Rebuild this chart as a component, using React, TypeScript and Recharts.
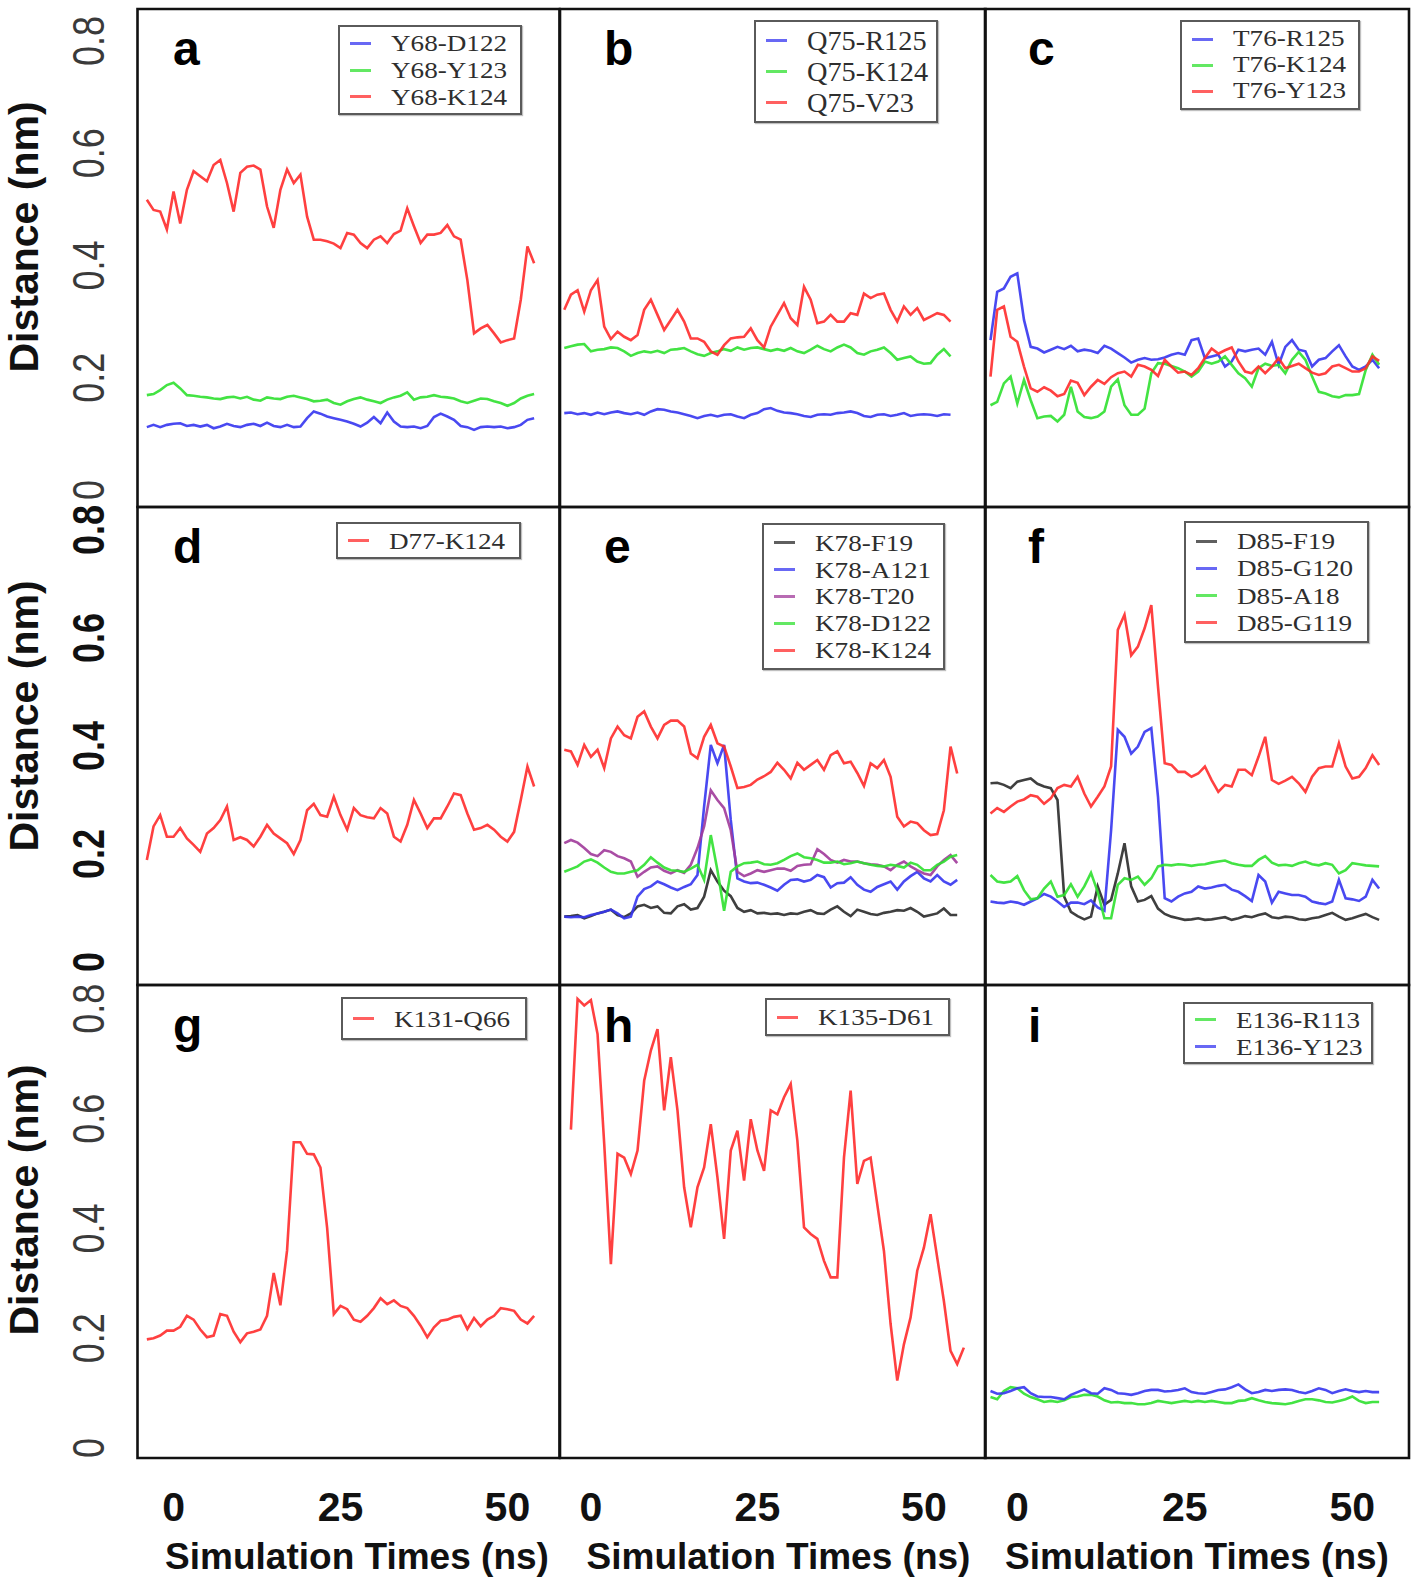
import React from "react";
import { LineChart, Line, XAxis, YAxis, ReferenceArea, Legend } from "recharts";

// simulation time (ns)
const times = [-4, -3, -2, -1, 0, 1, 2, 3, 4, 5, 6, 7, 8, 9, 10, 11, 12, 13, 14, 15, 16, 17, 18, 19, 20, 21, 22, 23, 24, 25, 26, 27, 28, 29, 30, 31, 32, 33, 34, 35, 36, 37, 38, 39, 40, 41, 42, 43, 44, 45, 46, 47, 48, 49, 50, 51, 52, 53, 54];
const timesE = [-4, -3, -2, -1, 0, 1, 2, 3, 4, 5, 6, 7, 8, 9, 10, 11, 12, 13, 14, 15, 16, 17, 18, 19, 20, 21, 22, 23, 24, 25, 26, 27, 28, 29, 30, 31, 32, 33, 34, 35, 36, 37, 38, 39, 40, 41, 42, 43, 44, 45, 46, 47, 48, 49, 50, 51, 52, 53, 54, 55];
const timesH = [-3, -2, -1, 0, 1, 2, 3, 4, 5, 6, 7, 8, 9, 10, 11, 12, 13, 14, 15, 16, 17, 18, 19, 20, 21, 22, 23, 24, 25, 26, 27, 28, 29, 30, 31, 32, 33, 34, 35, 36, 37, 38, 39, 40, 41, 42, 43, 44, 45, 46, 47, 48, 49, 50, 51, 52, 53, 54, 55, 56];

const xTicks = [0, 25, 50];
const yTicks = [0, 0.2, 0.4, 0.6, 0.8];

// panel a
const aY68D122 = [0.112, 0.116, 0.112, 0.116, 0.118, 0.119, 0.114, 0.116, 0.113, 0.116, 0.11, 0.113, 0.118, 0.114, 0.112, 0.116, 0.118, 0.114, 0.12, 0.114, 0.112, 0.116, 0.112, 0.113, 0.128, 0.14, 0.136, 0.131, 0.128, 0.125, 0.122, 0.118, 0.113, 0.12, 0.13, 0.119, 0.138, 0.122, 0.113, 0.112, 0.113, 0.11, 0.114, 0.13, 0.136, 0.131, 0.125, 0.114, 0.112, 0.107, 0.112, 0.113, 0.112, 0.113, 0.11, 0.112, 0.116, 0.125, 0.128];
const aY68Y123 = [0.169, 0.171, 0.178, 0.187, 0.191, 0.181, 0.169, 0.168, 0.166, 0.165, 0.163, 0.162, 0.165, 0.166, 0.163, 0.166, 0.161, 0.159, 0.165, 0.163, 0.162, 0.166, 0.168, 0.165, 0.162, 0.158, 0.159, 0.161, 0.155, 0.152, 0.158, 0.162, 0.165, 0.161, 0.158, 0.155, 0.161, 0.165, 0.168, 0.174, 0.161, 0.165, 0.166, 0.169, 0.166, 0.165, 0.163, 0.158, 0.155, 0.159, 0.163, 0.162, 0.158, 0.155, 0.15, 0.155, 0.163, 0.168, 0.171];
const aY68K124 = [0.517, 0.499, 0.496, 0.464, 0.532, 0.475, 0.535, 0.568, 0.559, 0.55, 0.579, 0.588, 0.547, 0.496, 0.565, 0.576, 0.578, 0.571, 0.505, 0.467, 0.535, 0.571, 0.547, 0.562, 0.487, 0.446, 0.446, 0.443, 0.439, 0.431, 0.458, 0.455, 0.44, 0.431, 0.446, 0.452, 0.44, 0.456, 0.462, 0.502, 0.47, 0.44, 0.455, 0.455, 0.458, 0.472, 0.452, 0.446, 0.374, 0.279, 0.288, 0.294, 0.279, 0.263, 0.267, 0.27, 0.339, 0.434, 0.404];

// panel b
const bQ75R125 = [0.137, 0.138, 0.135, 0.137, 0.134, 0.138, 0.135, 0.138, 0.14, 0.137, 0.135, 0.138, 0.134, 0.14, 0.144, 0.143, 0.14, 0.138, 0.135, 0.132, 0.128, 0.132, 0.134, 0.131, 0.134, 0.135, 0.131, 0.128, 0.134, 0.137, 0.144, 0.146, 0.141, 0.138, 0.137, 0.135, 0.132, 0.13, 0.134, 0.135, 0.134, 0.137, 0.138, 0.14, 0.137, 0.132, 0.13, 0.134, 0.135, 0.132, 0.134, 0.137, 0.132, 0.134, 0.135, 0.134, 0.132, 0.135, 0.134];
const bQ75K124 = [0.253, 0.256, 0.259, 0.26, 0.247, 0.25, 0.251, 0.254, 0.253, 0.247, 0.239, 0.244, 0.247, 0.245, 0.248, 0.244, 0.25, 0.251, 0.253, 0.247, 0.242, 0.239, 0.244, 0.247, 0.251, 0.248, 0.254, 0.25, 0.253, 0.254, 0.251, 0.248, 0.251, 0.248, 0.253, 0.247, 0.244, 0.25, 0.257, 0.251, 0.247, 0.254, 0.259, 0.254, 0.244, 0.241, 0.247, 0.25, 0.254, 0.244, 0.232, 0.235, 0.238, 0.229, 0.225, 0.226, 0.241, 0.251, 0.238];
const bQ75V23 = [0.321, 0.348, 0.356, 0.318, 0.356, 0.374, 0.291, 0.269, 0.282, 0.273, 0.267, 0.276, 0.321, 0.339, 0.312, 0.285, 0.303, 0.321, 0.3, 0.27, 0.27, 0.264, 0.247, 0.241, 0.258, 0.27, 0.272, 0.273, 0.288, 0.267, 0.254, 0.291, 0.312, 0.333, 0.306, 0.294, 0.362, 0.339, 0.297, 0.3, 0.312, 0.3, 0.3, 0.315, 0.312, 0.35, 0.342, 0.348, 0.35, 0.321, 0.3, 0.327, 0.312, 0.324, 0.303, 0.309, 0.315, 0.312, 0.3];

// panel c
const cT76R125 = [0.267, 0.353, 0.359, 0.38, 0.386, 0.303, 0.255, 0.252, 0.245, 0.25, 0.255, 0.251, 0.257, 0.247, 0.25, 0.248, 0.244, 0.257, 0.252, 0.244, 0.236, 0.227, 0.232, 0.235, 0.232, 0.233, 0.236, 0.241, 0.244, 0.241, 0.267, 0.27, 0.235, 0.238, 0.241, 0.22, 0.229, 0.25, 0.247, 0.25, 0.252, 0.241, 0.264, 0.223, 0.255, 0.267, 0.25, 0.247, 0.22, 0.232, 0.235, 0.247, 0.258, 0.238, 0.22, 0.214, 0.22, 0.232, 0.217];
const cT76K124 = [0.151, 0.157, 0.19, 0.202, 0.154, 0.196, 0.16, 0.128, 0.131, 0.132, 0.122, 0.134, 0.184, 0.14, 0.13, 0.128, 0.131, 0.14, 0.184, 0.197, 0.151, 0.134, 0.134, 0.145, 0.208, 0.226, 0.225, 0.221, 0.217, 0.211, 0.202, 0.211, 0.229, 0.225, 0.229, 0.238, 0.223, 0.208, 0.199, 0.184, 0.217, 0.225, 0.221, 0.223, 0.208, 0.232, 0.246, 0.232, 0.202, 0.175, 0.172, 0.167, 0.165, 0.169, 0.169, 0.171, 0.214, 0.241, 0.223];
const cT76Y123 = [0.202, 0.321, 0.327, 0.273, 0.264, 0.22, 0.181, 0.175, 0.183, 0.177, 0.167, 0.171, 0.195, 0.191, 0.169, 0.184, 0.196, 0.189, 0.201, 0.208, 0.211, 0.202, 0.223, 0.22, 0.214, 0.203, 0.232, 0.22, 0.209, 0.211, 0.205, 0.217, 0.235, 0.252, 0.243, 0.249, 0.254, 0.229, 0.211, 0.208, 0.22, 0.208, 0.22, 0.235, 0.217, 0.221, 0.225, 0.217, 0.209, 0.205, 0.208, 0.22, 0.223, 0.217, 0.211, 0.211, 0.217, 0.238, 0.23];

// panel d
const dD77K124 = [0.189, 0.251, 0.272, 0.232, 0.232, 0.248, 0.229, 0.217, 0.204, 0.238, 0.248, 0.263, 0.288, 0.226, 0.231, 0.226, 0.214, 0.232, 0.254, 0.238, 0.229, 0.22, 0.2, 0.226, 0.281, 0.293, 0.272, 0.269, 0.306, 0.272, 0.245, 0.285, 0.272, 0.268, 0.266, 0.285, 0.275, 0.232, 0.223, 0.254, 0.3, 0.275, 0.248, 0.266, 0.266, 0.288, 0.312, 0.309, 0.275, 0.245, 0.248, 0.254, 0.245, 0.232, 0.223, 0.241, 0.3, 0.362, 0.325];

// panel e
const eK78F19 = [0.084, 0.085, 0.087, 0.081, 0.085, 0.09, 0.093, 0.097, 0.087, 0.083, 0.09, 0.103, 0.106, 0.1, 0.103, 0.091, 0.09, 0.103, 0.107, 0.097, 0.1, 0.121, 0.17, 0.149, 0.132, 0.122, 0.1, 0.093, 0.096, 0.09, 0.091, 0.089, 0.09, 0.087, 0.09, 0.089, 0.093, 0.096, 0.09, 0.089, 0.097, 0.103, 0.093, 0.085, 0.097, 0.093, 0.089, 0.087, 0.091, 0.093, 0.096, 0.095, 0.1, 0.093, 0.084, 0.087, 0.09, 0.099, 0.087, 0.087];
const eK78A121 = [0.084, 0.083, 0.084, 0.083, 0.087, 0.09, 0.093, 0.097, 0.09, 0.081, 0.084, 0.121, 0.135, 0.14, 0.149, 0.144, 0.138, 0.133, 0.139, 0.144, 0.161, 0.288, 0.402, 0.368, 0.402, 0.263, 0.155, 0.149, 0.146, 0.147, 0.143, 0.138, 0.132, 0.143, 0.152, 0.153, 0.149, 0.152, 0.161, 0.157, 0.138, 0.146, 0.147, 0.157, 0.143, 0.134, 0.13, 0.139, 0.144, 0.149, 0.134, 0.149, 0.159, 0.167, 0.155, 0.149, 0.161, 0.149, 0.143, 0.152];
const eK78T20 = [0.22, 0.226, 0.221, 0.211, 0.2, 0.196, 0.207, 0.204, 0.196, 0.192, 0.186, 0.158, 0.167, 0.175, 0.177, 0.169, 0.164, 0.17, 0.165, 0.18, 0.211, 0.251, 0.318, 0.3, 0.285, 0.244, 0.167, 0.159, 0.164, 0.17, 0.167, 0.17, 0.173, 0.173, 0.169, 0.178, 0.18, 0.181, 0.209, 0.2, 0.189, 0.184, 0.189, 0.186, 0.186, 0.183, 0.181, 0.18, 0.177, 0.17, 0.18, 0.186, 0.177, 0.17, 0.164, 0.161, 0.177, 0.189, 0.198, 0.183];
const eK78D122 = [0.167, 0.172, 0.177, 0.186, 0.19, 0.184, 0.175, 0.167, 0.164, 0.164, 0.167, 0.17, 0.18, 0.194, 0.184, 0.175, 0.17, 0.169, 0.167, 0.173, 0.18, 0.152, 0.235, 0.17, 0.095, 0.167, 0.177, 0.183, 0.184, 0.186, 0.181, 0.18, 0.183, 0.189, 0.196, 0.201, 0.194, 0.192, 0.189, 0.184, 0.184, 0.186, 0.181, 0.183, 0.186, 0.183, 0.18, 0.178, 0.177, 0.18, 0.178, 0.175, 0.184, 0.18, 0.17, 0.17, 0.18, 0.186, 0.195, 0.198];
const eK78K124 = [0.393, 0.39, 0.365, 0.402, 0.38, 0.393, 0.359, 0.414, 0.436, 0.42, 0.414, 0.454, 0.464, 0.436, 0.414, 0.439, 0.447, 0.447, 0.436, 0.386, 0.377, 0.417, 0.439, 0.405, 0.399, 0.362, 0.322, 0.324, 0.328, 0.338, 0.344, 0.352, 0.369, 0.356, 0.34, 0.369, 0.356, 0.365, 0.374, 0.356, 0.383, 0.39, 0.368, 0.371, 0.35, 0.326, 0.368, 0.359, 0.374, 0.343, 0.269, 0.251, 0.26, 0.257, 0.244, 0.235, 0.237, 0.281, 0.399, 0.349];

// panel f
const fD85F19 = [0.331, 0.332, 0.328, 0.322, 0.334, 0.337, 0.34, 0.33, 0.325, 0.322, 0.3, 0.121, 0.093, 0.085, 0.079, 0.084, 0.14, 0.106, 0.115, 0.164, 0.22, 0.14, 0.112, 0.115, 0.122, 0.099, 0.089, 0.084, 0.081, 0.078, 0.079, 0.081, 0.078, 0.079, 0.081, 0.083, 0.078, 0.081, 0.085, 0.083, 0.087, 0.09, 0.083, 0.081, 0.084, 0.083, 0.079, 0.078, 0.081, 0.083, 0.087, 0.091, 0.084, 0.078, 0.081, 0.085, 0.089, 0.083, 0.078];
const fD85G120 = [0.112, 0.11, 0.109, 0.112, 0.11, 0.106, 0.112, 0.118, 0.126, 0.121, 0.112, 0.102, 0.11, 0.11, 0.107, 0.114, 0.101, 0.095, 0.244, 0.43, 0.417, 0.386, 0.399, 0.426, 0.433, 0.306, 0.118, 0.112, 0.121, 0.127, 0.13, 0.14, 0.136, 0.138, 0.141, 0.143, 0.134, 0.13, 0.122, 0.113, 0.161, 0.149, 0.11, 0.13, 0.127, 0.124, 0.124, 0.121, 0.112, 0.109, 0.107, 0.112, 0.152, 0.118, 0.116, 0.113, 0.121, 0.152, 0.136];
const fD85A18 = [0.161, 0.149, 0.147, 0.149, 0.159, 0.133, 0.116, 0.118, 0.136, 0.149, 0.121, 0.124, 0.144, 0.121, 0.14, 0.165, 0.13, 0.081, 0.081, 0.143, 0.155, 0.152, 0.158, 0.143, 0.155, 0.177, 0.18, 0.179, 0.181, 0.18, 0.178, 0.18, 0.181, 0.184, 0.186, 0.188, 0.183, 0.18, 0.178, 0.178, 0.189, 0.196, 0.184, 0.179, 0.18, 0.178, 0.183, 0.186, 0.181, 0.179, 0.183, 0.18, 0.164, 0.17, 0.183, 0.181, 0.179, 0.178, 0.177];
const fD85G119 = [0.275, 0.285, 0.278, 0.288, 0.297, 0.301, 0.309, 0.306, 0.293, 0.303, 0.322, 0.328, 0.325, 0.343, 0.312, 0.288, 0.306, 0.325, 0.362, 0.615, 0.643, 0.568, 0.584, 0.618, 0.661, 0.51, 0.368, 0.365, 0.352, 0.352, 0.343, 0.349, 0.362, 0.337, 0.315, 0.328, 0.325, 0.356, 0.356, 0.346, 0.38, 0.417, 0.337, 0.33, 0.336, 0.343, 0.331, 0.315, 0.343, 0.359, 0.362, 0.362, 0.405, 0.362, 0.34, 0.343, 0.359, 0.383, 0.365];

// panel g
const gK131Q66 = [0.198, 0.2, 0.205, 0.214, 0.214, 0.221, 0.241, 0.234, 0.216, 0.202, 0.205, 0.244, 0.241, 0.212, 0.193, 0.209, 0.212, 0.216, 0.241, 0.319, 0.26, 0.36, 0.557, 0.557, 0.536, 0.535, 0.511, 0.401, 0.244, 0.259, 0.253, 0.234, 0.23, 0.241, 0.255, 0.273, 0.262, 0.269, 0.259, 0.255, 0.241, 0.223, 0.202, 0.22, 0.232, 0.234, 0.239, 0.241, 0.217, 0.237, 0.222, 0.234, 0.241, 0.255, 0.253, 0.25, 0.234, 0.227, 0.241];

// panel h
const hK135D61 = [0.58, 0.818, 0.806, 0.816, 0.754, 0.554, 0.335, 0.536, 0.529, 0.499, 0.542, 0.669, 0.724, 0.763, 0.615, 0.712, 0.615, 0.475, 0.402, 0.475, 0.511, 0.59, 0.493, 0.381, 0.542, 0.578, 0.487, 0.599, 0.542, 0.505, 0.615, 0.608, 0.639, 0.663, 0.56, 0.402, 0.39, 0.381, 0.341, 0.311, 0.311, 0.529, 0.651, 0.481, 0.523, 0.529, 0.444, 0.359, 0.226, 0.123, 0.189, 0.238, 0.323, 0.365, 0.426, 0.347, 0.268, 0.177, 0.153, 0.183];

// panel i
const iE136R113 = [0.093, 0.089, 0.104, 0.111, 0.109, 0.099, 0.093, 0.089, 0.084, 0.086, 0.084, 0.087, 0.093, 0.094, 0.097, 0.097, 0.094, 0.087, 0.083, 0.084, 0.082, 0.082, 0.08, 0.08, 0.082, 0.086, 0.084, 0.082, 0.084, 0.086, 0.084, 0.086, 0.084, 0.086, 0.084, 0.082, 0.082, 0.086, 0.087, 0.091, 0.087, 0.084, 0.082, 0.081, 0.08, 0.082, 0.086, 0.089, 0.089, 0.087, 0.084, 0.083, 0.086, 0.089, 0.094, 0.086, 0.082, 0.084, 0.084];
const iE136Y123 = [0.104, 0.099, 0.1, 0.104, 0.109, 0.111, 0.1, 0.094, 0.093, 0.093, 0.091, 0.089, 0.097, 0.102, 0.107, 0.1, 0.099, 0.109, 0.106, 0.1, 0.099, 0.097, 0.1, 0.104, 0.106, 0.106, 0.103, 0.104, 0.106, 0.109, 0.102, 0.1, 0.099, 0.102, 0.106, 0.107, 0.111, 0.116, 0.107, 0.1, 0.102, 0.106, 0.104, 0.106, 0.107, 0.106, 0.102, 0.1, 0.104, 0.109, 0.106, 0.1, 0.104, 0.107, 0.104, 0.102, 0.104, 0.102, 0.102];

const RED = "#ff2b2b";
const GREEN = "#2fe02f";
const BLUE = "#3535f0";
const BLACK = "#2a2a2a";
const PURPLE = "#a03a9a";

const SANS = '"Liberation Sans", Arial, Helvetica, sans-serif';
const SERIF = '"Liberation Serif", "Times New Roman", serif';

const PAGE_W = 1418;
const PAGE_H = 1583;
const COL_X = [137.5, 559.5, 985, 1409];
const ROW_Y = [9, 507, 985, 1458];
const PAD = 3;
const X_DOMAINS: [number, number][] = [[-5.4, 57.8], [-4.64, 59.25], [-4.82, 58.46]];
const Y_DOMAINS: [number, number][] = [[-0.0303, 0.857], [-0.0426, 0.8426], [-0.018, 0.8434]];
const Y_TITLE_CY = [237, 716, 1200];
const X_TITLE_CX = [357, 778, 1197];
const LETTER_X = [173, 604, 1028];
const LETTER_BASE = [65, 563, 1042];

type SeriesDef = { name: string; color: string; values: number[] };
type LegendBox = { left: number; top: number; width: number; height: number; rowH: number; fontSize: number; stretch: number };
type PanelDef = { letter: string; row: number; col: number; x: number[]; series: SeriesDef[]; legend: LegendBox };

const panels: PanelDef[] = [
  {
    letter: "a", row: 0, col: 0, x: times,
    series: [
      { name: "Y68-D122", color: BLUE, values: aY68D122 },
      { name: "Y68-Y123", color: GREEN, values: aY68Y123 },
      { name: "Y68-K124", color: RED, values: aY68K124 },
    ],
    legend: { left: 338, top: 25, width: 184, height: 90, rowH: 26.7, fontSize: 24, stretch: 1.13 },
  },
  {
    letter: "b", row: 0, col: 1, x: times,
    series: [
      { name: "Q75-R125", color: BLUE, values: bQ75R125 },
      { name: "Q75-K124", color: GREEN, values: bQ75K124 },
      { name: "Q75-V23", color: RED, values: bQ75V23 },
    ],
    legend: { left: 754, top: 20, width: 184, height: 103, rowH: 31, fontSize: 27.5, stretch: 1.03 },
  },
  {
    letter: "c", row: 0, col: 2, x: times,
    series: [
      { name: "T76-R125", color: BLUE, values: cT76R125 },
      { name: "T76-K124", color: GREEN, values: cT76K124 },
      { name: "T76-Y123", color: RED, values: cT76Y123 },
    ],
    legend: { left: 1180, top: 20, width: 180, height: 90, rowH: 26, fontSize: 23.4, stretch: 1.16 },
  },
  {
    letter: "d", row: 1, col: 0, x: times,
    series: [{ name: "D77-K124", color: RED, values: dD77K124 }],
    legend: { left: 336, top: 522, width: 185, height: 37, rowH: 27, fontSize: 24, stretch: 1.13 },
  },
  {
    letter: "e", row: 1, col: 1, x: timesE,
    series: [
      { name: "K78-F19", color: BLACK, values: eK78F19 },
      { name: "K78-A121", color: BLUE, values: eK78A121 },
      { name: "K78-T20", color: PURPLE, values: eK78T20 },
      { name: "K78-D122", color: GREEN, values: eK78D122 },
      { name: "K78-K124", color: RED, values: eK78K124 },
    ],
    legend: { left: 762, top: 523, width: 183, height: 147, rowH: 26.8, fontSize: 24, stretch: 1.13 },
  },
  {
    letter: "f", row: 1, col: 2, x: times,
    series: [
      { name: "D85-F19", color: BLACK, values: fD85F19 },
      { name: "D85-G120", color: BLUE, values: fD85G120 },
      { name: "D85-A18", color: GREEN, values: fD85A18 },
      { name: "D85-G119", color: RED, values: fD85G119 },
    ],
    legend: { left: 1184, top: 521, width: 185, height: 122, rowH: 27.2, fontSize: 24, stretch: 1.13 },
  },
  {
    letter: "g", row: 2, col: 0, x: times,
    series: [{ name: "K131-Q66", color: RED, values: gK131Q66 }],
    legend: { left: 341, top: 997, width: 186, height: 43, rowH: 27, fontSize: 24, stretch: 1.13 },
  },
  {
    letter: "h", row: 2, col: 1, x: timesH,
    series: [{ name: "K135-D61", color: RED, values: hK135D61 }],
    legend: { left: 765, top: 998, width: 185, height: 38, rowH: 27, fontSize: 24, stretch: 1.13 },
  },
  {
    letter: "i", row: 2, col: 2, x: times,
    series: [
      { name: "E136-R113", color: GREEN, values: iE136R113 },
      { name: "E136-Y123", color: BLUE, values: iE136Y123 },
    ],
    legend: { left: 1183, top: 1002, width: 190, height: 62, rowH: 27, fontSize: 24, stretch: 1.13 },
  },
];

// legend keeps the plotting order of the series (recharts would sort it by name)
function renderLegend(p: PanelDef) {
  const box = p.legend;
  return (
    <div
      style={{
        boxSizing: "border-box",
        width: box.width,
        height: box.height,
        border: "2px solid #5a5a5a",
        boxShadow: "1px 1px 1px rgba(0,0,0,0.25)",
        background: "#fff",
        display: "flex",
        flexDirection: "column",
        justifyContent: "center",
      }}
    >
      {p.series.map((s) => (
        <div key={s.name} style={{ height: box.rowH, display: "flex", alignItems: "center" }}>
          <span style={{ display: "inline-block", width: 21, height: 3, marginLeft: 10, background: s.color, opacity: 0.75 }} />
          <span
            style={{
              display: "inline-block",
              marginLeft: 20,
              fontFamily: SERIF,
              fontSize: box.fontSize,
              color: "#2e2e2e",
              lineHeight: 1,
              whiteSpace: "nowrap",
              transform: `scaleX(${box.stretch})`,
              transformOrigin: "left center",
            }}
          >
            {s.name}
          </span>
        </div>
      ))}
    </div>
  );
}

function Panel({ p }: { p: PanelDef }) {
  const left = p.col === 0 ? 0 : COL_X[p.col] - PAD;
  const right = COL_X[p.col + 1] + PAD;
  const top = ROW_Y[p.row] - PAD;
  const bottom = p.row === 2 ? PAGE_H : ROW_Y[p.row + 1] + PAD;
  const w = right - left;
  const h = bottom - top;
  const showY = p.col === 0;
  const showX = p.row === 2;
  const [x0, x1] = X_DOMAINS[p.col];
  const [y0, y1] = Y_DOMAINS[p.row];
  const boldY = p.row === 1;

  const data = p.x.map((t, i) => {
    const o: any = { t };
    p.series.forEach((s, k) => {
      o["s" + k] = s.values[i];
    });
    return o;
  });

  const yTick = (props: any) => (
    <text
      transform={`translate(${104 - left},${props.y}) rotate(-90) scale(0.8,1)`}
      textAnchor="middle"
      fontFamily={SANS}
      fontSize={45}
      fontWeight={boldY ? 700 : 400}
      fill={boldY ? "#111" : "#3a3a3a"}
    >
      {String(props.payload.value)}
    </text>
  );

  const xTick = (props: any) => (
    <text x={props.x} y={1521 - top} textAnchor="middle" fontFamily={SANS} fontSize={41} fontWeight={700} fill="#111">
      {String(props.payload.value)}
    </text>
  );

  const yTitle = () => (
    <text
      transform={`translate(${38 - left},${Y_TITLE_CY[p.row] - top}) rotate(-90)`}
      textAnchor="middle"
      fontFamily={SANS}
      fontSize={41}
      fontWeight={700}
      fill="#111"
    >
      Distance (nm)
    </text>
  );

  const xTitle = () => (
    <text x={X_TITLE_CX[p.col] - left} y={1569 - top} textAnchor="middle" fontFamily={SANS} fontSize={37} fontWeight={700} fill="#111">
      Simulation Times (ns)
    </text>
  );

  return (
    <div style={{ position: "absolute", left, top, width: w, height: h }}>
      <LineChart
        width={w}
        height={h}
        data={data}
        margin={{ top: PAD, right: PAD, left: showY ? 0 : PAD, bottom: showX ? 0 : PAD }}
      >
        <XAxis
          type="number"
          dataKey="t"
          domain={[x0, x1]}
          allowDataOverflow
          ticks={xTicks}
          interval={0}
          hide={!showX}
          height={PAGE_H - ROW_Y[3]}
          axisLine={false}
          tickLine={false}
          tickSize={0}
          tickMargin={0}
          tick={xTick}
          label={xTitle}
        />
        <YAxis
          type="number"
          domain={[y0, y1]}
          allowDataOverflow
          ticks={yTicks}
          interval={0}
          hide={!showY}
          width={COL_X[0]}
          axisLine={false}
          tickLine={false}
          tickSize={0}
          tickMargin={0}
          tick={yTick}
          label={yTitle}
        />
        {p.series.map((s, k) => (
          <Line
            key={s.name}
            type="linear"
            dataKey={"s" + k}
            name={s.name}
            stroke={s.color}
            strokeWidth={2.6}
            strokeOpacity={0.9}
            dot={false}
            activeDot={false}
            isAnimationActive={false}
          />
        ))}
        <ReferenceArea x1={x0} x2={x1} y1={y0} y2={y1} fill="none" stroke="#111" strokeWidth={2.6} ifOverflow="visible" />
        <Legend
          layout="vertical"
          align="center"
          verticalAlign="middle"
          wrapperStyle={{ left: p.legend.left - left, top: p.legend.top - top, width: p.legend.width }}
          content={() => renderLegend(p)}
        />
      </LineChart>
    </div>
  );
}

export default function App() {
  return (
    <div style={{ position: "absolute", left: 0, top: 0, width: PAGE_W, height: PAGE_H, background: "#fff", overflow: "hidden" }}>
      {panels.map((p) => (
        <Panel key={p.letter} p={p} />
      ))}
      <svg width={PAGE_W} height={PAGE_H} style={{ position: "absolute", left: 0, top: 0, pointerEvents: "none" }}>
        {panels.map((p) => (
          <text
            key={p.letter}
            x={LETTER_X[p.col]}
            y={LETTER_BASE[p.row]}
            fontFamily={SANS}
            fontSize={48}
            fontWeight={700}
            fill="#000"
          >
            {p.letter}
          </text>
        ))}
      </svg>
    </div>
  );
}
